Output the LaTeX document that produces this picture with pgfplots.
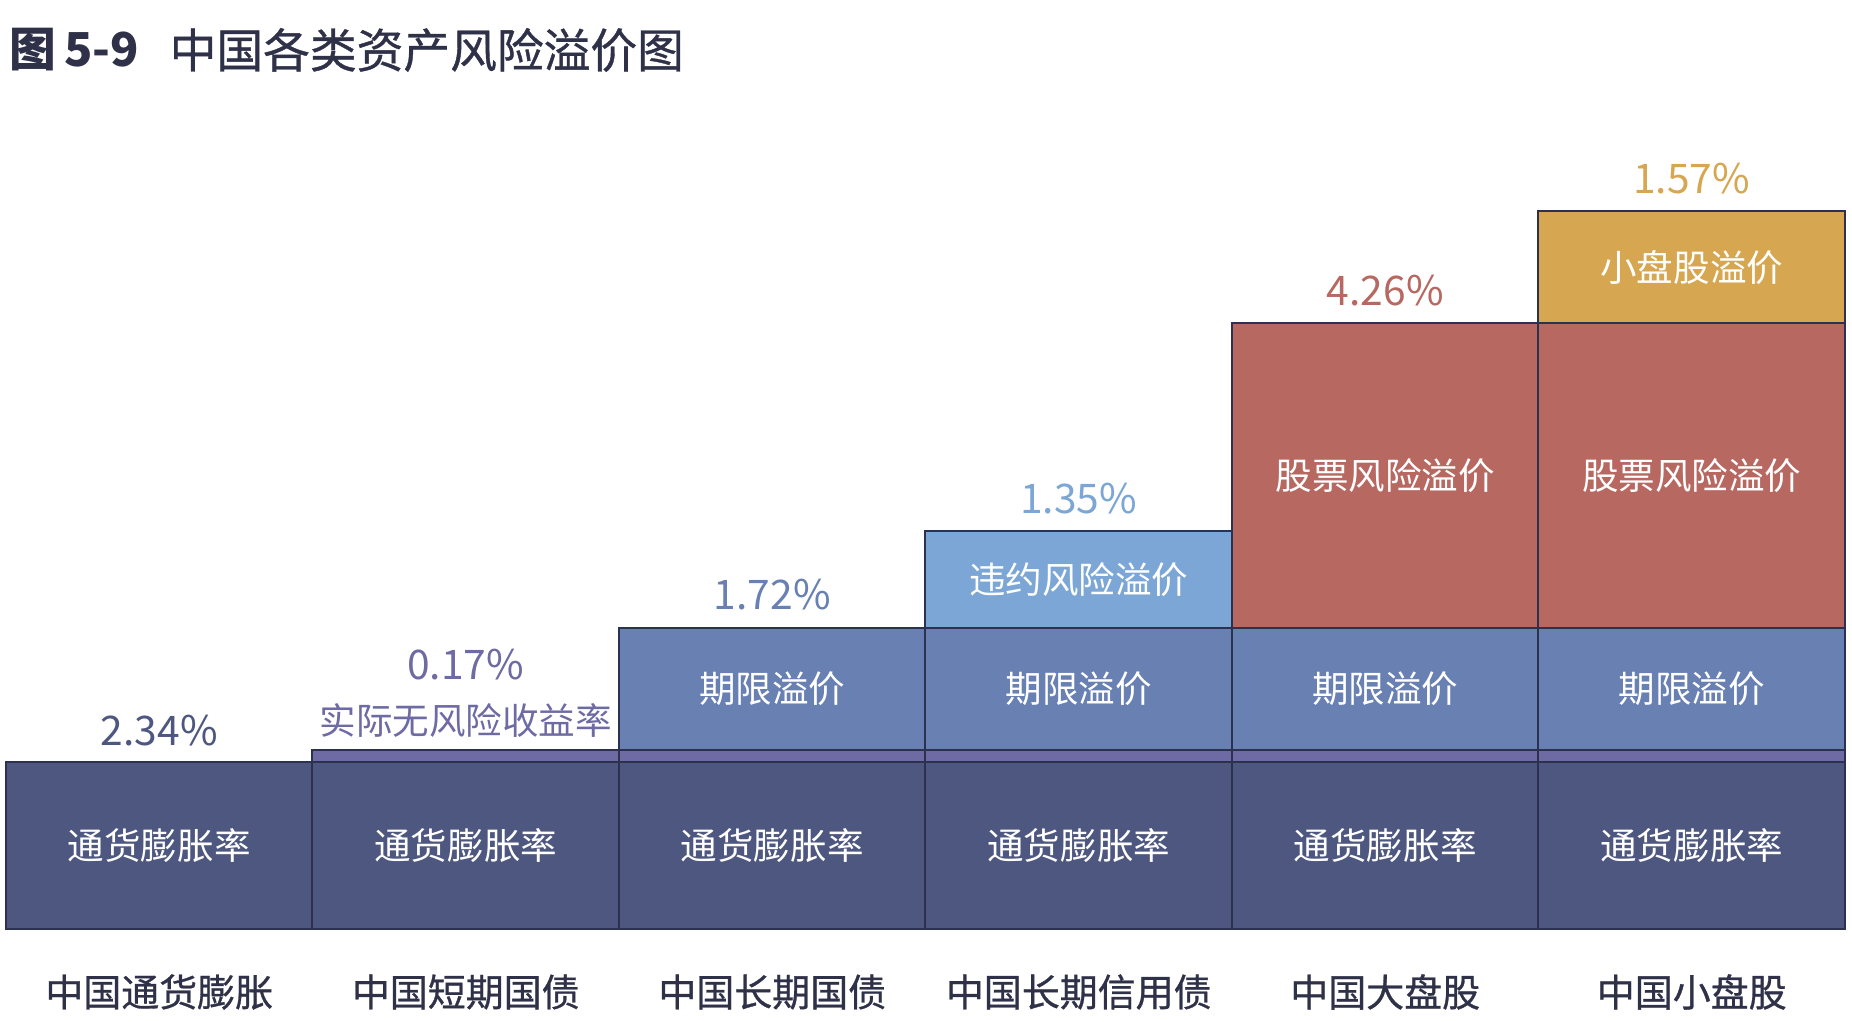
\documentclass[border=0pt]{standalone}
\usepackage{pgfplots}
\pgfplotsset{compat=1.18}
\usepackage{fontspec}
\setmainfont{Noto Sans CJK SC}
\newfontfamily\cjkmed[FakeBold=0.8]{Noto Sans CJK SC}
\definecolor{infl}{HTML}{4E577F}
\definecolor{realc}{HTML}{6E6AA3}
\definecolor{termc}{HTML}{6980B3}
\definecolor{defc}{HTML}{7BA6D5}
\definecolor{equc}{HTML}{B76861}
\definecolor{smallc}{HTML}{D6A650}
\definecolor{edgec}{HTML}{2D3150}
\definecolor{darkt}{HTML}{2F3148}
\tikzset{
  inl/.style={font=\fontsize{10.4}{12}\selectfont, text=white},
  val/.style={font=\fontsize{11.6}{13}\selectfont},
  cat/.style={font=\fontsize{10.8}{12}\selectfont\cjkmed, text=darkt, yshift=-6.25mm},
}
\begin{document}
\begin{tikzpicture}
\path[use as bounding box] (0,0) rectangle (185.2mm,102.2mm);
\begin{axis}[
  at={(0.6mm,9.25mm)}, anchor=south west,
  scale only axis, width=183.9mm, height=92.8mm,
  xmin=-0.5, xmax=5.5, ymin=0, ymax=13,
  hide axis, clip=false,
  ybar stacked, bar width=1,
  every axis plot/.append style={draw=edgec, line width=0.2mm},
]
\addplot[fill=infl] coordinates {(0,2.34)(1,2.34)(2,2.34)(3,2.34)(4,2.34)(5,2.34)};
\addplot[fill=realc] coordinates {(0,0)(1,0.17)(2,0.17)(3,0.17)(4,0.17)(5,0.17)};
\addplot[fill=termc] coordinates {(0,0)(1,0)(2,1.72)(3,1.72)(4,1.72)(5,1.72)};
\addplot[fill=defc] coordinates {(0,0)(1,0)(2,0)(3,1.35)(4,0)(5,0)};
\addplot[fill=equc] coordinates {(0,0)(1,0)(2,0)(3,0)(4,4.26)(5,4.26)};
\addplot[fill=smallc] coordinates {(0,0)(1,0)(2,0)(3,0)(4,0)(5,1.57)};
\coordinate (i0) at (axis cs:0,1.17);
\coordinate (i1) at (axis cs:1,1.17);
\coordinate (i2) at (axis cs:2,1.17);
\coordinate (i3) at (axis cs:3,1.17);
\coordinate (i4) at (axis cs:4,1.17);
\coordinate (i5) at (axis cs:5,1.17);
\coordinate (t2) at (axis cs:2,3.37);
\coordinate (t3) at (axis cs:3,3.37);
\coordinate (t4) at (axis cs:4,3.37);
\coordinate (t5) at (axis cs:5,3.37);
\coordinate (d3) at (axis cs:3,4.905);
\coordinate (e4) at (axis cs:4,6.36);
\coordinate (e5) at (axis cs:5,6.36);
\coordinate (s5) at (axis cs:5,9.275);
\coordinate (v0) at (axis cs:0,2.34);
\coordinate (v1) at (axis cs:1,2.51);
\coordinate (v2) at (axis cs:2,4.23);
\coordinate (v3) at (axis cs:3,5.58);
\coordinate (v4) at (axis cs:4,8.49);
\coordinate (v5) at (axis cs:5,10.06);
\coordinate (c0) at (axis cs:0,0);
\coordinate (c1) at (axis cs:1,0);
\coordinate (c2) at (axis cs:2,0);
\coordinate (c3) at (axis cs:3,0);
\coordinate (c4) at (axis cs:4,0);
\coordinate (c5) at (axis cs:5,0);
\end{axis}
\node[inl] at (i0) {通货膨胀率};
\node[inl] at (i1) {通货膨胀率};
\node[inl] at (i2) {通货膨胀率};
\node[inl] at (i3) {通货膨胀率};
\node[inl] at (i4) {通货膨胀率};
\node[inl] at (i5) {通货膨胀率};
\node[inl] at (t2) {期限溢价};
\node[inl] at (t3) {期限溢价};
\node[inl] at (t4) {期限溢价};
\node[inl] at (t5) {期限溢价};
\node[inl] at (d3) {违约风险溢价};
\node[inl] at (e4) {股票风险溢价};
\node[inl] at (e5) {股票风险溢价};
\node[inl] at (s5) {小盘股溢价};
\node[val, text=infl, yshift=3.2mm] at (v0) {2.34\%};
\node[val, text=realc, yshift=8.6mm] at (v1) {0.17\%};
\node[val, text=termc, yshift=3.3mm] at (v2) {1.72\%};
\node[val, text=defc, yshift=3.3mm] at (v3) {1.35\%};
\node[val, text=equc, yshift=3.3mm] at (v4) {4.26\%};
\node[val, text=smallc, yshift=3.3mm] at (v5) {1.57\%};
\node[inl, text=realc, yshift=3.0mm] at (v1) {实际无风险收益率};
\node[cat] at (c0) {中国通货膨胀};
\node[cat] at (c1) {中国短期国债};
\node[cat] at (c2) {中国长期国债};
\node[cat] at (c3) {中国长期信用债};
\node[cat] at (c4) {中国大盘股};
\node[cat] at (c5) {中国小盘股};
\node[anchor=west, inner sep=0pt, text=darkt, font=\fontsize{13.3}{15}\selectfont\bfseries] at (0.9mm,97.2mm) {图\,5-9};
\node[anchor=west, inner sep=0pt, text=darkt, font=\fontsize{13.3}{15}\selectfont\cjkmed] at (16.9mm,97.2mm) {中国各类资产风险溢价图};
\end{tikzpicture}
\end{document}
